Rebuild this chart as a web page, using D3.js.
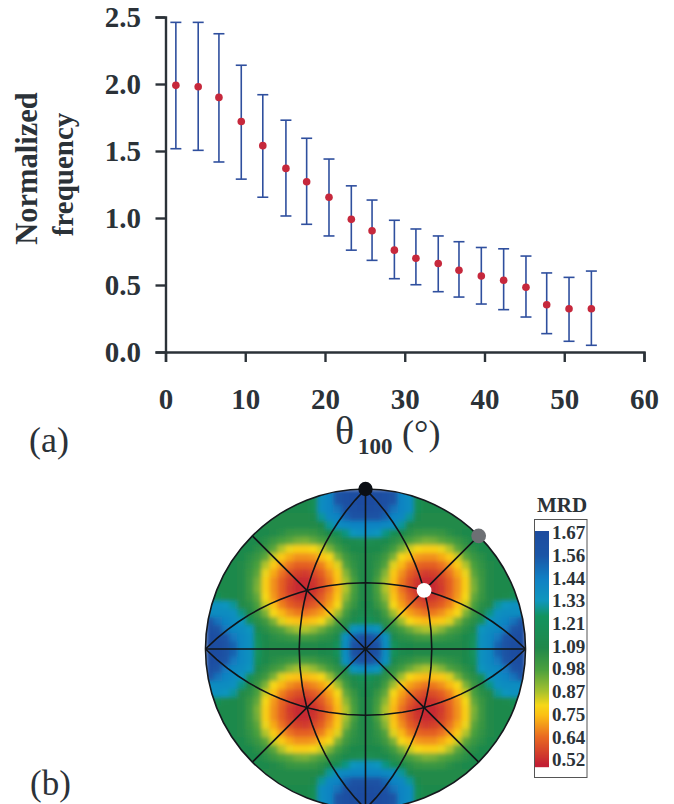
<!DOCTYPE html>
<html>
<head>
<meta charset="utf-8">
<script src="https://cdn.jsdelivr.net/npm/d3@7"></script>
<style>
html,body{margin:0;padding:0;background:#fff;}
svg{display:block;}
text{font-family:"Liberation Serif",serif;fill:#2b3238;}
</style>
</head>
<body>
<svg class="svg" width="674" height="804"></svg>
<script>
// panel (a)
let theta = [1.3,4.1,6.7,9.5,12.2,15.1,17.7,20.5,23.3,25.9,28.7,31.4,34.2,36.8,39.6,42.4,45.2,47.8,50.6,53.4];
let freqMean = [1.99,1.98,1.90,1.72,1.54,1.37,1.27,1.155,0.99,0.905,0.76,0.70,0.66,0.61,0.567,0.535,0.483,0.353,0.323,0.323];
let freqHigh = [2.46,2.46,2.375,2.14,1.92,1.73,1.595,1.44,1.24,1.134,0.983,0.918,0.866,0.823,0.78,0.77,0.716,0.59,0.557,0.604];
let freqLow = [1.517,1.505,1.418,1.29,1.155,1.015,0.953,0.866,0.76,0.684,0.547,0.502,0.45,0.41,0.358,0.316,0.261,0.137,0.08,0.05];
let xTicks = [0,10,20,30,40,50,60];
let yTicks = [0,0.5,1,1.5,2,2.5];

// panel (b): colour bar
let mrdLabels = ['1.67','1.56','1.44','1.33','1.21','1.09','0.98','0.87','0.75','0.64','0.52'];
let mrdStops = [1.70,1.56,1.44,1.33,1.25,1.09,0.98,0.87,0.80,0.75,0.64,0.50];
let mrdColors = ['#1d4a9e','#1b55a6','#1080c4','#0f96bd','#12935e','#20884a','#4aa03e','#a6c12e','#f6d717','#fbc014','#e96a22','#c31f33'];

// MRD in the upper left quadrant of the pole figure, one row per line, rim to centre
let mrdQuadrant = [
[1.10,1.10,1.10,1.10,1.10,1.10,1.10,1.10,1.10,1.10,1.10,1.10,1.10,1.15,1.36,1.42,1.56,1.62,1.66,1.67],
[1.10,1.10,1.10,1.10,1.10,1.10,1.10,1.10,1.10,1.10,1.10,1.10,1.10,1.18,1.38,1.42,1.56,1.62,1.66,1.67],
[1.10,1.10,1.10,1.10,1.10,1.10,1.10,1.10,1.10,1.10,1.10,1.10,1.10,1.18,1.38,1.42,1.48,1.60,1.64,1.66],
[1.08,1.08,1.08,1.08,1.08,1.08,1.08,1.08,1.08,1.08,1.08,1.08,1.08,1.12,1.30,1.40,1.42,1.52,1.58,1.60],
[1.08,1.08,1.08,1.08,1.08,1.08,1.08,1.08,1.08,1.08,1.08,1.08,1.08,1.08,1.12,1.30,1.38,1.40,1.42,1.42],
[1.10,1.10,1.10,1.10,1.10,1.10,1.10,1.10,1.08,1.06,1.03,1.02,1.02,1.03,1.06,1.12,1.18,1.28,1.34,1.36],
[1.10,1.10,1.10,1.10,1.10,1.10,1.10,1.06,1.02,0.98,0.96,0.93,0.92,0.95,0.98,1.02,1.06,1.12,1.14,1.16],
[1.10,1.10,1.10,1.10,1.10,1.10,1.06,1.02,0.96,0.86,0.81,0.78,0.78,0.80,0.84,0.92,1.00,1.06,1.10,1.10],
[1.10,1.10,1.10,1.10,1.10,1.06,1.02,0.96,0.84,0.77,0.72,0.69,0.69,0.70,0.75,0.80,0.92,1.01,1.06,1.08],
[1.10,1.10,1.10,1.10,1.08,1.04,0.98,0.86,0.77,0.70,0.65,0.62,0.62,0.63,0.67,0.74,0.82,0.97,1.04,1.08],
[1.10,1.10,1.10,1.10,1.08,1.03,0.96,0.81,0.72,0.65,0.59,0.56,0.55,0.58,0.62,0.69,0.77,0.91,1.02,1.08],
[1.10,1.10,1.10,1.10,1.08,1.02,0.93,0.78,0.69,0.62,0.56,0.52,0.52,0.54,0.59,0.66,0.75,0.87,0.98,1.08],
[1.10,1.10,1.10,1.10,1.08,1.02,0.92,0.78,0.69,0.62,0.55,0.52,0.52,0.53,0.58,0.65,0.74,0.86,0.98,1.08],
[1.20,1.18,1.12,1.10,1.08,1.03,0.95,0.80,0.70,0.63,0.58,0.54,0.53,0.56,0.61,0.68,0.76,0.90,1.00,1.08],
[1.36,1.36,1.34,1.30,1.08,1.06,0.98,0.84,0.75,0.67,0.62,0.59,0.58,0.61,0.65,0.71,0.80,0.95,1.03,1.10],
[1.38,1.38,1.38,1.36,1.28,1.08,1.02,0.92,0.80,0.74,0.69,0.66,0.65,0.68,0.71,0.77,0.88,1.00,1.08,1.14],
[1.56,1.48,1.42,1.38,1.34,1.20,1.06,1.01,0.92,0.82,0.77,0.75,0.74,0.76,0.80,0.88,0.98,1.05,1.14,1.20],
[1.62,1.56,1.46,1.40,1.38,1.34,1.14,1.06,1.01,0.97,0.91,0.87,0.86,0.89,0.94,1.00,1.05,1.14,1.34,1.38],
[1.66,1.62,1.56,1.46,1.40,1.36,1.20,1.10,1.06,1.04,1.02,1.00,1.00,1.01,1.04,1.06,1.14,1.36,1.52,1.60],
[1.67,1.66,1.60,1.52,1.40,1.36,1.24,1.10,1.08,1.08,1.08,1.08,1.08,1.08,1.10,1.12,1.22,1.38,1.60,1.67]
];

// crystal directions as lon/lat on the stereographic net
let poleBlack = [0,90];
let poleGrey = [90,45];
let poleWhite = [45,35.26];
let meridians = [-45,0,45];
let parallelsThrough = [-45,0,45];
let diagonals = [[90,45],[-90,45]];

let svg = d3.select('.svg');
let textColor = '#2b3238';

function drawPanelA() {
    let x = d3.scaleLinear().domain([0,60]).range([165.5,644]);
    let y = d3.scaleLinear().domain([0,2.5]).range([352,17]);

    let xAxis = svg.append('g')
        .attr('transform','translate(0,352)')
        .call(d3.axisBottom(x).tickValues(xTicks).tickSize(10).tickFormat(d3.format('d')));
    let yAxis = svg.append('g')
        .attr('transform','translate(165.5,0)')
        .call(d3.axisLeft(y).tickValues(yTicks).tickSize(10).tickFormat(d3.format('.1f')));

    [xAxis,yAxis].forEach(function (a) {
        a.selectAll('path,line').attr('stroke',textColor).attr('stroke-width',2.4);
        a.selectAll('text')
            .attr('font-size','29px')
            .attr('font-weight','bold')
            .attr('font-family','Liberation Serif')
            .attr('fill',textColor);
    });
    xAxis.selectAll('text').attr('y',57).attr('dy',0);
    yAxis.selectAll('text').attr('x',-24.5).attr('dy','0.33em');

    let bars = svg.append('g').selectAll('g')
        .data(theta)
        .enter()
        .append('g');
    bars.append('line')
        .attr('x1',function (d) { return x(d); })
        .attr('x2',function (d) { return x(d); })
        .attr('y1',function (d,i) { return y(freqLow[i]); })
        .attr('y2',function (d,i) { return y(freqHigh[i]); });
    bars.append('line')
        .attr('x1',function (d) { return x(d) - 5.5; })
        .attr('x2',function (d) { return x(d) + 5.5; })
        .attr('y1',function (d,i) { return y(freqHigh[i]); })
        .attr('y2',function (d,i) { return y(freqHigh[i]); });
    bars.append('line')
        .attr('x1',function (d) { return x(d) - 5.5; })
        .attr('x2',function (d) { return x(d) + 5.5; })
        .attr('y1',function (d,i) { return y(freqLow[i]); })
        .attr('y2',function (d,i) { return y(freqLow[i]); });
    bars.selectAll('line').attr('stroke','#2f4f9e').attr('stroke-width',1.6);
    bars.append('circle')
        .attr('cx',function (d) { return x(d); })
        .attr('cy',function (d,i) { return y(freqMean[i]); })
        .attr('r',3.8)
        .attr('fill','#c6283c');

    svg.append('text')
        .attr('transform','translate(37,168.5) rotate(-90)')
        .attr('text-anchor','middle')
        .attr('font-size','30.5px')
        .attr('font-weight','bold')
        .text('Normalized');
    svg.append('text')
        .attr('transform','translate(72.5,174.5) rotate(-90)')
        .attr('text-anchor','middle')
        .attr('font-size','29px')
        .attr('font-weight','bold')
        .text('frequency');

    svg.append('text').attr('x',335).attr('y',444).attr('font-size','40px').text('θ');
    svg.append('text').attr('x',358).attr('y',454).attr('font-size','23px').attr('font-weight','bold').text('100');
    svg.append('text').attr('x',402).attr('y',445).attr('font-size','36px').text('(°)');
    svg.append('text').attr('x',29).attr('y',452).attr('font-size','36px').text('(a)');
}

function drawPanelB() {
    let R = 160;
    let cx = 365.5;
    let cy = 649;
    let color = d3.scaleLinear().domain(mrdStops).range(mrdColors).clamp(true);

    // mirror the quadrant into the whole disc
    let n = mrdQuadrant.length;
    let cells = [];
    for (let r = 0; r < n * 2; r++) {
        for (let c = 0; c < n * 2; c++) {
            let rr = r < n ? r : n * 2 - 1 - r;
            let cc = c < n ? c : n * 2 - 1 - c;
            cells.push({r:r, c:c, v:mrdQuadrant[rr][cc]});
        }
    }
    let xBand = d3.scaleBand().domain(d3.range(n * 2)).range([cx - R,cx + R]);
    let yBand = d3.scaleBand().domain(d3.range(n * 2)).range([cy - R,cy + R]);

    let defs = svg.append('defs');
    defs.append('clipPath').attr('id','discClip')
        .append('circle').attr('cx',cx).attr('cy',cy).attr('r',R);
    defs.append('filter').attr('id','soft')
        .attr('x',-0.05).attr('y',-0.05).attr('width',1.1).attr('height',1.1)
        .append('feGaussianBlur').attr('stdDeviation',2);

    svg.append('g').attr('clip-path','url(#discClip)')
        .append('g').attr('filter','url(#soft)')
        .selectAll('rect')
        .data(cells)
        .enter()
        .append('rect')
        .attr('x',function (d) { return xBand(d.c); })
        .attr('y',function (d) { return yBand(d.r); })
        .attr('width',xBand.bandwidth() + 0.5)
        .attr('height',yBand.bandwidth() + 0.5)
        .attr('fill',function (d) { return color(d.v); });

    // net of great circles
    let proj = d3.geoStereographic().scale(R).translate([cx,cy]).clipAngle(90.01).precision(0.2);
    let path = d3.geoPath(proj);
    let net = svg.append('g').attr('fill','none').attr('stroke','#101418').attr('stroke-width',1.6);

    meridians.forEach(function (lon) {
        net.append('path').attr('d',path({type:'LineString',coordinates:[[lon,-90],[lon,0],[lon,90]]}));
    });
    parallelsThrough.forEach(function (lat) {
        net.append('path').attr('d',path({type:'LineString',coordinates:[[-90,0],[0,lat],[90,0]]}));
    });
    diagonals.forEach(function (p) {
        net.append('path').attr('d',path({type:'LineString',coordinates:[p,[0,0],[-p[0],-p[1]]]}));
    });
    svg.append('circle').attr('cx',cx).attr('cy',cy).attr('r',R)
        .attr('fill','none').attr('stroke','#15191d').attr('stroke-width',1.6);

    let marks = [[poleBlack,'#0b0f14',7.2],[poleGrey,'#6d7074',7.4],[poleWhite,'#ffffff',7.4]];
    svg.append('g').selectAll('circle')
        .data(marks)
        .enter()
        .append('circle')
        .attr('cx',function (d) { return proj(d[0])[0]; })
        .attr('cy',function (d) { return proj(d[0])[1]; })
        .attr('r',function (d) { return d[2]; })
        .attr('fill',function (d) { return d[1]; });

    svg.append('text').attr('x',30).attr('y',795).attr('font-size','35px').text('(b)');

    // colour bar
    svg.append('rect').attr('x',534.5).attr('y',519.5).attr('width',52.5).attr('height',258)
        .attr('fill','#fff').attr('stroke','#555').attr('stroke-width',1);
    svg.append('text').attr('x',562).attr('y',511.5).attr('text-anchor','middle')
        .attr('font-size','21px').attr('font-weight','bold').text('MRD');

    let labelValues = mrdLabels.map(Number);
    let barY = d3.scalePoint().domain(mrdLabels).range([533,760]);
    let barScale = d3.scaleLinear().domain([labelValues[0],labelValues[10]]).range([533,760]);
    let slices = d3.range(531,767);
    svg.append('g').selectAll('rect')
        .data(slices)
        .enter()
        .append('rect')
        .attr('x',535)
        .attr('y',function (d) { return d; })
        .attr('width',14)
        .attr('height',1.2)
        .attr('fill',function (d) { return color(barScale.invert(d)); });
    svg.append('g').selectAll('text')
        .data(mrdLabels)
        .enter()
        .append('text')
        .attr('x',552)
        .attr('y',function (d) { return barY(d); })
        .attr('dy','0.33em')
        .attr('font-size','19px')
        .attr('font-weight','bold')
        .text(function (d) { return d; });
}

drawPanelA();
drawPanelB();
</script>
</body>
</html>
